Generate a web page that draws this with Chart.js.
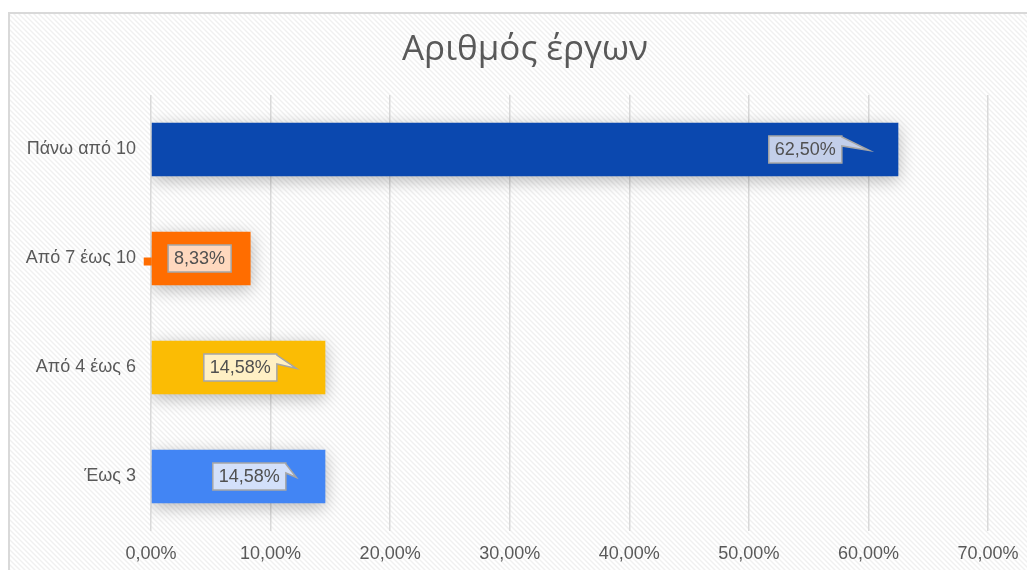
<!DOCTYPE html>
<html>
<head>
<meta charset="utf-8">
<script src="https://cdn.jsdelivr.net/npm/chart.js@4"></script>
<style>
  html, body { margin: 0; padding: 0; background: #ffffff; }
  #wrap { position: absolute; left: 0; top: 0; width: 1027px; height: 570px; }
</style>
</head>
<body>
<div id="wrap"><canvas id="chartBar"></canvas></div>
<script>
var title = "Αριθμός έργων";
var categories = ["Πάνω από 10", "Από 7 έως 10", "Από 4 έως 6", "Έως 3"];
var shares = [62.50, 8.33, 14.58, 14.58];
var ticks = [0, 10, 20, 30, 40, 50, 60, 70];

var barColors = ['#0B48AF', '#FF6D00', '#FBBC04', '#4285F4'];
var boxColors = ['#C3CFEA', '#FFD8BE', '#FFF0C4', '#D3E0FA'];
// hand-placed callouts, relative to the end of each bar
var callouts = [
    { dx: -93, tip: -29 },
    { dx: -51, tip: null, notch: true },
    { dx: -85, tip: -29 },
    { dx: -76, tip: -29 }
];

function pct(v) {
    return v.toFixed(2).replace('.', ',') + '%';
}

var labelFont = '"Liberation Sans", Arial, sans-serif';

var background = {
    id: 'background',
    beforeDraw: function (chart) {
        var ctx = chart.ctx;
        var p = document.createElement('canvas');
        p.width = 5; p.height = 5;
        var pc = p.getContext('2d');
        pc.fillStyle = '#ffffff';
        pc.fillRect(0, 0, 5, 5);
        pc.strokeStyle = '#f0f0f0';
        pc.lineWidth = 1.4;
        pc.beginPath();
        pc.moveTo(-1, -1); pc.lineTo(6, 6);
        pc.moveTo(-1, 4); pc.lineTo(1, 6);
        pc.moveTo(4, -1); pc.lineTo(6, 1);
        pc.stroke();
        ctx.save();
        ctx.fillStyle = ctx.createPattern(p, 'repeat');
        ctx.fillRect(10, 14, chart.width, chart.height);
        ctx.strokeStyle = '#d9d9d9';
        ctx.lineWidth = 2;
        ctx.strokeRect(9, 13, chart.width + 20, chart.height + 20);
        // chart title (Excel places it slightly left of the plot centre)
        ctx.fillStyle = '#595959';
        ctx.font = '35px "Open Sans", "Noto Sans", sans-serif';
        ctx.textAlign = 'center';
        ctx.textBaseline = 'middle';
        ctx.fillText(title, 525, 50);
        ctx.restore();
    },
    beforeDatasetsDraw: function (chart) {
        var ctx = chart.ctx;
        ctx.save();
        ctx.shadowColor = 'rgba(0,0,0,0.28)';
        ctx.shadowBlur = 16;
        ctx.shadowOffsetY = 4;
    },
    afterDatasetsDraw: function (chart) {
        var ctx = chart.ctx;
        ctx.restore();
        var meta = chart.getDatasetMeta(0);
        ctx.save();
        ctx.font = '18px ' + labelFont;
        ctx.textAlign = 'center';
        ctx.textBaseline = 'middle';
        meta.data.forEach(function (bar, i) {
            var c = callouts[i];
            var text = pct(shares[i]);
            var w = ctx.measureText(text).width + 12;
            var h = 27;
            var cx = bar.x + c.dx;
            var cy = bar.y;
            var left = cx - w / 2, top = cy - h / 2;
            if (c.notch) {
                ctx.fillStyle = barColors[i];
                ctx.fillRect(bar.base - 8, cy - 1, 8, 8);
            }
            ctx.fillStyle = boxColors[i];
            ctx.strokeStyle = '#a6a6a6';
            ctx.lineWidth = 1.5;
            ctx.beginPath();
            ctx.moveTo(left, top);
            ctx.lineTo(left + w, top);
            if (c.tip !== null) {
                ctx.lineTo(left + w, top + 1);
                ctx.lineTo(bar.x + c.tip, cy + 1);
                ctx.lineTo(left + w, top + 10);
            }
            ctx.lineTo(left + w, top + h);
            ctx.lineTo(left, top + h);
            ctx.closePath();
            ctx.fill();
            ctx.stroke();
            ctx.fillStyle = '#505050';
            ctx.fillText(text, cx, cy + 1);
        });
        ctx.restore();
    }
};

var bar = document.getElementById("chartBar");

new Chart(bar, {
    type: "bar",
    plugins: [background],
    data: {
        labels: categories,
        datasets: [{
            data: shares,
            backgroundColor: barColors,
            borderWidth: 0,
            barPercentage: 0.49,
            categoryPercentage: 1
        }]
    },
    options: {
        indexAxis: 'y',
        responsive: true,
        maintainAspectRatio: false,
        animation: false,
        layout: {
            padding: { left: 0, right: 39, top: 95, bottom: 0 }
        },
        plugins: {
            legend: { display: false },
            tooltip: { enabled: false },
            title: { display: false }
        },
        scales: {
            x: {
                min: 0,
                max: 70,
                afterBuildTicks: function (scale) {
                    scale.ticks = ticks.map(function (v) { return { value: v }; });
                },
                afterFit: function (scale) {
                    scale.height = 39;
                    scale.paddingLeft = 0;
                    scale.paddingRight = 0;
                },
                grid: { color: '#d9d9d9', lineWidth: 1.5, drawTicks: false },
                border: { display: false },
                ticks: {
                    padding: 12,
                    color: '#595959',
                    font: { family: labelFont, size: 18 },
                    callback: function (v) { return pct(v); }
                }
            },
            y: {
                grid: { display: false },
                border: { display: false },
                afterFit: function (scale) { scale.width = 151; },
                ticks: {
                    padding: 7,
                    color: '#595959',
                    font: { family: labelFont, size: 18 }
                }
            }
        }
    }
});
</script>
</body>
</html>
